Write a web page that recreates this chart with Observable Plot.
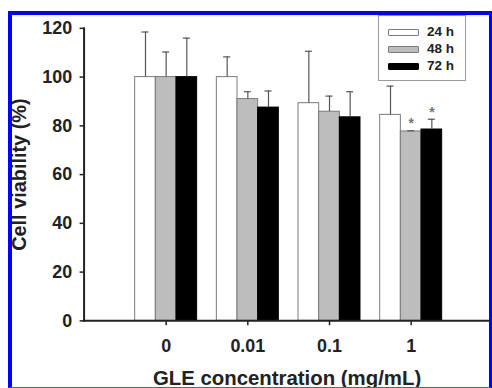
<!DOCTYPE html>
<html><head><meta charset="utf-8">
<script src="https://cdn.jsdelivr.net/npm/d3@7"></script>
<script src="https://cdn.jsdelivr.net/npm/@observablehq/plot@0.6"></script>
<style>
body{margin:0;background:#fff;}
#page{position:relative;width:492px;height:388px;overflow:hidden;font-family:"Liberation Sans",Arial,sans-serif;background:#fff;}
#frame{position:absolute;left:8px;top:11px;width:484px;height:377px;box-sizing:border-box;border-style:solid;border-color:#0000ff;border-width:4px 3.5px 1.5px 4.5px;border-bottom-color:#4a5ae8;overflow:hidden;background:#fff;}
#chart{position:absolute;left:-12.5px;top:-15px;}
#legend{position:absolute;left:378px;top:15px;width:88px;height:66px;box-sizing:border-box;border:1px solid #9a9a9a;background:#fff;z-index:2;}
.row{position:absolute;left:9px;height:7px;}
.sw{position:absolute;left:0;top:0;width:31px;height:7px;box-sizing:border-box;border:1px solid #808080;border-radius:1px;}
.lb{position:absolute;left:39px;top:-6px;font-weight:bold;font-size:13.5px;line-height:18px;color:#222;white-space:nowrap;}
</style></head>
<body>
<div id="page"><div id="frame"><div id="chart"></div></div><div id="legend"></div></div>
<script>
const concentrations = ["0", "0.01", "0.1", "1"];
const times = ["24 h", "48 h", "72 h"];
const mean24 = [100, 100, 89.3, 84.5];
const mean48 = [100, 91.0, 85.8, 77.7];
const mean72 = [100, 87.5, 83.5, 78.5];
const upper24 = [118.5, 108.3, 110.6, 96.3];
const upper48 = [110.3, 94.0, 92.2, 78.0];
const upper72 = [116.0, 94.3, 94.0, 82.7];
const significant = [["1", "48 h"], ["1", "72 h"]];
const yTicks = [0, 20, 40, 60, 80, 100, 120];
const fills = ["#ffffff", "#bdbdbd", "#000000"];
const outlines = ["#7a7a7a", "#7a7a7a", "#000000"];

// grouped-bar layout (in category units on a linear x scale)
const barWidth = 0.253;   // width of one bar, fraction of the category step
const capHalf = 0.043;    // half width of an error-bar cap

const means = [mean24, mean48, mean72];
const uppers = [upper24, upper48, upper72];
const rows = [];
concentrations.forEach((c, i) => times.forEach((t, j) => {
  const center = i + (j - 1) * barWidth;
  rows.push({conc: c, time: t, value: means[j][i], upper: uppers[j][i],
    x1: center - barWidth / 2, x2: center + barWidth / 2, xc: center});
}));
const sigRows = rows.filter(r => significant.some(([c, t]) => c === r.conc && t === r.time));

const font = '"Liberation Sans", Arial, sans-serif';
const chart = Plot.plot({
  width: 492, height: 388,
  marginLeft: 84, marginRight: 0, marginTop: 28, marginBottom: 66,
  style: {fontFamily: font, fontWeight: "bold", fontSize: "18px", color: "#222", background: "transparent", overflow: "visible"},
  x: {domain: [-1.005, 3.965]},
  y: {domain: [0, 120]},
  color: {domain: times, range: fills},
  marks: [
    Plot.rectY(rows, {x1: "x1", x2: "x2", y1: 0, y2: "value", fill: "time", stroke: d => outlines[times.indexOf(d.time)], strokeWidth: 1}),
    Plot.ruleX(rows, {x: "xc", y1: "value", y2: "upper", stroke: "#555", strokeWidth: 1.2}),
    Plot.ruleY(rows, {y: "upper", x1: d => d.xc - capHalf, x2: d => d.xc + capHalf, stroke: "#555", strokeWidth: 1.2}),
    Plot.text(sigRows, {x: "xc", y: "upper", text: () => "*", dy: -7, fill: "#777", fontSize: 14}),
    Plot.axisY({ticks: yTicks, tickSize: 4, tickPadding: 8, stroke: "#222", strokeWidth: 1.5, label: null, fontSize: 18}),
    Plot.axisY({ticks: [], label: "Cell viability (%)", labelAnchor: "center", labelOffset: 73, labelArrow: "none", fontSize: 20}),
    Plot.axisX({ticks: [0, 1, 2, 3], tickFormat: i => concentrations[i], tickSize: 5, tickPadding: 14, stroke: "#222", strokeWidth: 1.5, label: null, fontSize: 18}),
    Plot.axisX({ticks: [], label: "GLE concentration (mg/mL)", labelAnchor: "center", labelOffset: 64, labelArrow: "none", fontSize: 20.5}),
    Plot.frame({anchor: "left", stroke: "#222", strokeWidth: 2}),
    Plot.frame({anchor: "bottom", stroke: "#222", strokeWidth: 2})
  ]
});
document.getElementById("chart").appendChild(chart);

const legend = document.getElementById("legend");
times.forEach((t, j) => {
  const row = document.createElement("div");
  row.className = "row";
  row.style.top = (13 + j * 17) + "px";
  const sw = document.createElement("div");
  sw.className = "sw";
  sw.style.background = fills[j];
  sw.style.borderColor = outlines[j];
  const lb = document.createElement("div");
  lb.className = "lb";
  lb.textContent = t;
  row.appendChild(sw); row.appendChild(lb);
  legend.appendChild(row);
});
</script>
</body></html>
